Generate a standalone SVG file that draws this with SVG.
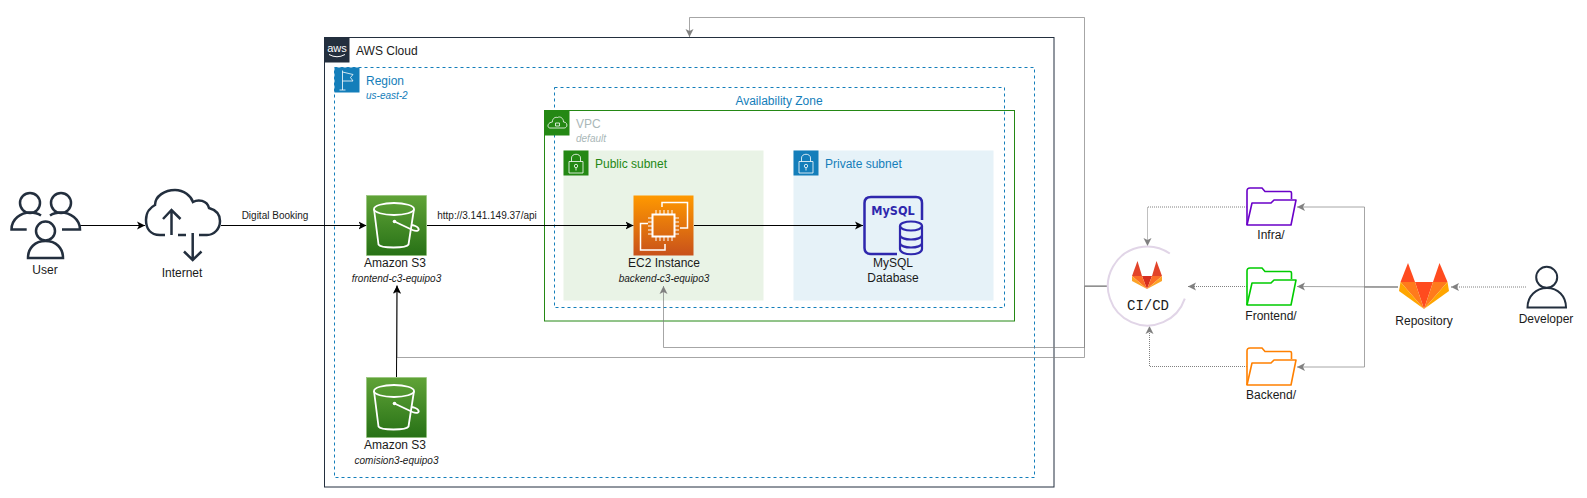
<svg xmlns="http://www.w3.org/2000/svg" width="1587" height="498" viewBox="0 0 1587 498">
<style>
text{font-family:"Liberation Sans",Arial,sans-serif;font-size:12px;fill:#1a1a1a}
.c{text-anchor:middle}
.i{font-style:italic;font-size:10px}
.s{font-size:10px}
.bl{fill:#147EBA}
.gn{fill:#248814}
.ic{fill:none;stroke:#fff;stroke-width:.8;stroke-linejoin:round}
.dk{fill:none;stroke:#232F3E;stroke-width:2.5}
.k{fill:none;stroke:#000;stroke-width:1;marker-end:url(#ak)}
.g{fill:none;stroke:#808080;stroke-width:1;stroke-opacity:.7}
.ga{marker-end:url(#ag)}
.d{stroke-dasharray:1 1;stroke-opacity:1}
.w{fill:none;stroke:#fff;stroke-width:1.800;stroke-linejoin:round}
</style>
<defs>
<marker id="ak" markerUnits="userSpaceOnUse" markerWidth="10" markerHeight="10" refX="8" refY="5" orient="auto"><path d="M0,1 L8,5 L0,9 L2,5Z" fill="#000"/></marker>
<marker id="ag" markerUnits="userSpaceOnUse" markerWidth="10" markerHeight="10" refX="8" refY="5" orient="auto"><path d="M0,1 L8,5 L0,9 L2,5Z" fill="#808080"/></marker>
<linearGradient id="gs" x1="0" y1="1" x2="0" y2="0"><stop offset="0" stop-color="#277116"/><stop offset="1" stop-color="#60A337"/></linearGradient>
<linearGradient id="ge" x1="0" y1="1" x2="0" y2="0"><stop offset="0" stop-color="#C8511B"/><stop offset="1" stop-color="#FF9900"/></linearGradient>
<g id="bucket">
<rect width="60" height="60" fill="url(#gs)" stroke="#8cbf6f" stroke-width=".5"/>
<ellipse cx="27.500" cy="13.500" rx="20" ry="6" class="w"/>
<path class="w" d="M7.500,13.500 L12,49 C14,53 40,53 42,49 L47.500,13.500"/>
<path class="w" d="M28,26 L46,34.500 C51,36.500 53,34.500 52,33 C51,31 47,29.500 44.500,29.500"/>
<circle cx="28" cy="26" r="1.800" fill="#fff"/>
</g>
<g id="lock">
<path class="ic" d="M5.500,11 H19.500 V22.500 H5.500Z M8,11 V7.500 C8,2.500 17,2.500 17,7.500 V11"/>
<circle cx="12.500" cy="15.500" r="1.700" class="ic"/><path class="ic" d="M12.500,17.200 V20"/>
</g>
<g id="folder">
<path d="M0,37 V3 Q0,0 3,0 H15 L18,3.500 H43 Q44.500,3.500 44.500,5 V11" fill="none" stroke-width="1.600"/>
<path d="M0,37 L5,15 H24 L27,12 H49 L44,37Z" fill="none" stroke-width="1.600" stroke-linejoin="round"/>
</g>
</defs>

<g id="aws-cloud">
<rect x="324.500" y="37.500" width="729.500" height="449.500" fill="#fff" stroke="#232F3E"/>
<rect x="324.500" y="37.500" width="25" height="25" fill="#232F3E"/>
<text x="337" y="52" class="c" style="fill:#fff;font-size:11px">aws</text>
<path d="M329,54.500 Q337,59 345,54.500" fill="none" stroke="#fff"/>
<text x="356" y="55">AWS Cloud</text>
</g>
<g id="region">
<rect x="334.500" y="67.500" width="700" height="410" fill="none" stroke="#147EBA" stroke-dasharray="3 3"/>
<rect x="334.500" y="67.500" width="25" height="25" fill="#147EBA"/>
<path class="ic" d="M342.500,70.500 V90 M339.500,90 H345.500 M342.500,72 L353,74.500 L350.500,77.500 L353,81 H342.500"/>
<text x="366" y="85" class="bl">Region</text>
<text x="366" y="99" class="bl i">us-east-2</text>
</g>
<g id="availability-zone">
<rect x="554.500" y="87.500" width="450" height="220" fill="none" stroke="#147EBA" stroke-dasharray="3 3"/>
<text x="779" y="105" class="c bl">Availability Zone</text>
</g>
<g id="vpc">
<rect x="544.500" y="110.500" width="470" height="210.500" fill="none" stroke="#248814"/>
<rect x="544.500" y="110.500" width="25" height="25" fill="#248814"/>
<path class="ic" d="M550,128 H564 C568,128 568,122 563.500,122 C563.500,118 560,116 557.500,117.500 C554,116.500 552,120 552.500,122 C547,122.500 547,128 550,128Z M555.500,123 H559.500 V126 H555.500Z"/>
<text x="576" y="128" style="fill:#AAB7B8">VPC</text>
<text x="576" y="142" class="i" style="fill:#AAB7B8">default</text>
</g>
<g id="public-subnet">
<rect x="563.500" y="150.500" width="200" height="150" fill="#E9F3E6"/>
<rect x="563.500" y="150.500" width="25" height="25" fill="#248814"/>
<use href="#lock" x="563.500" y="150.500"/>
<text x="595" y="168" class="gn">Public subnet</text>
</g>
<g id="private-subnet">
<rect x="793.500" y="150.500" width="200" height="150" fill="#E6F2F8"/>
<rect x="793.500" y="150.500" width="25" height="25" fill="#147EBA"/>
<use href="#lock" x="793.500" y="150.500"/>
<text x="825" y="168" class="bl">Private subnet</text>
</g>

<g id="connectors">
<path class="g" d="M1107,286 H1084.500 V17.500 H689.500 V37" style="marker-end:url(#ag)"/>
<path class="g ga" d="M1107,286.500 H1084.500 V357.500 H397 V286"/>
<path class="g ga" d="M1107,286 H1084.500 V347.500 H663.500 V286"/>
<path class="g ga" d="M1398,287 H1364.500 V207 H1297"/>
<path class="g ga" d="M1398,287 L1297,286.500"/>
<path class="g ga" d="M1398,287 H1364.500 V367 H1297"/>
<path class="g d ga" d="M1247,207 H1147.500 V246"/>
<path class="g d ga" d="M1247,286.500 H1188"/>
<path class="g d ga" d="M1247,366.500 H1149.500 V326"/>
<path class="g d ga" d="M1526,287 H1451"/>
<path class="k" d="M80,225.500 H145"/>
<path class="k" d="M221,225.500 H366.500"/>
<path class="k" d="M427,225.500 H633.500"/>
<path class="k" d="M694,225.500 H863"/>
<path class="k" d="M396.500,377 L397,285.500"/>
<text x="275" y="219" class="c s">Digital Booking</text>
<text x="487" y="219" class="c s">http://3.141.149.37/api</text>
</g>

<g id="user">
<circle cx="30" cy="203" r="10" class="dk"/>
<circle cx="61" cy="203" r="10" class="dk"/>
<circle cx="45.500" cy="231" r="9.500" class="dk"/>
<path class="dk" d="M26.700,229.500 H11.500 C11.500,219 21,212.500 30,212.500 C34,212.500 38,213.500 41,215.500"/>
<path class="dk" d="M62,229.500 H80 C80,219 70,212.500 61,212.500 C57,212.500 53,213.500 50,215.500"/>
<path class="dk" d="M28,258 H63 C63,248 56,241 45.500,241 C35,241 28,248 28,258Z"/>
<text x="45" y="274" class="c">User</text>
</g>
<g id="internet">
<path class="dk" d="M165,235 H160 C150,235 146,228 146,220 C146,212 151,207 155,205 C155,196 165,190 175,190 C184,190 191,196 193,202 C198,199 207,200 209,208 C216,210 220,215 220,221 C220,229 214,235 207,235 H199 M178,235 H186"/>
<path class="dk" d="M171.500,235 V210 M163,219 L171.500,210 L180.500,219 M192.700,233 V260 M184,251.500 L192.700,260 L201.500,251.500"/>
<text x="182" y="277" class="c">Internet</text>
</g>
<g id="s3-frontend">
<use href="#bucket" x="366.500" y="195.500"/>
<text x="395" y="267" class="c">Amazon S3</text>
<text x="396.500" y="282" class="c i">frontend-c3-equipo3</text>
</g>
<g id="s3-comision">
<use href="#bucket" x="366.500" y="377.500"/>
<text x="395" y="449" class="c">Amazon S3</text>
<text x="396.500" y="464" class="c i">comision3-equipo3</text>
</g>
<g id="ec2">
<rect x="633.500" y="195.500" width="60" height="60" fill="url(#ge)"/>
<rect x="652.500" y="214.500" width="22" height="22" fill="none" stroke="#fff" stroke-width="2"/>
<path d="M656,214 V210 M660,214 V210 M664,214 V210 M668,214 V210 M672,214 V210 M656,237 V241 M660,237 V241 M664,237 V241 M668,237 V241 M672,237 V241 M652,218 H648 M652,222 H648 M652,226 H648 M652,230 H648 M652,234 H648 M675,218 H679 M675,222 H679 M675,226 H679 M675,230 H679 M675,234 H679" stroke="#fff" fill="none"/>
<path d="M662,207 V202.500 H687.500 V228 H680 M648,223.500 H640.500 V250 H665 V244" fill="none" stroke="#fff" stroke-width="1.500"/>
<text x="664" y="267" class="c">EC2 Instance</text>
<text x="664" y="282" class="c i">backend-c3-equipo3</text>
</g>
<g id="mysql">
<path d="M897,254 H871 Q864.500,254 864.500,248 V203 Q864.500,197 871,197 H916 Q922,197 922,203 V220" fill="none" stroke="#2E27AD" stroke-width="2.500"/>
<text x="893" y="215" class="c" style="font-family:'DejaVu Sans',sans-serif;font-weight:bold;font-stretch:condensed;font-size:12.500px;fill:#2E27AD">MySQL</text>
<path d="M900,226 V249 C900,256 922,256 922,249 V226 M900,235 C900,241 922,241 922,235 M900,243 C900,249 922,249 922,243" fill="none" stroke="#2E27AD" stroke-width="2.200"/>
<ellipse cx="911" cy="226" rx="11" ry="4.500" fill="none" stroke="#2E27AD" stroke-width="2.200"/>
<text x="893" y="267" class="c">MySQL</text>
<text x="893" y="282" class="c">Database</text>
</g>
<g id="cicd">
<path d="M1169.800,253.500 A39.500,39.500 0 1 0 1184.800,298.600" fill="#fff" stroke="#E1D5E7" stroke-width="2"/>
<path d="M1137.500,261 L1132,276 H1142Z" fill="#E24329"/>
<path d="M1156.500,261 L1162,276 H1152Z" fill="#E24329"/>
<path d="M1142,276 H1152 L1147,289Z" fill="#D62E1F"/>
<path d="M1132,276 H1142 L1147,289Z" fill="#FC6D26"/>
<path d="M1162,276 H1152 L1147,289Z" fill="#FC6D26"/>
<path d="M1132,276 L1132,281 L1147,289Z" fill="#FCA326"/>
<path d="M1162,276 L1162,281 L1147,289Z" fill="#FCA326"/>
<text x="1148" y="310" class="c" style="font-family:'Liberation Mono',monospace;font-size:14px">CI/CD</text>
</g>
<g id="folder-infra" stroke="#6A00C8">
<use href="#folder" x="1247" y="188"/>
<text x="1271" y="239" class="c" stroke="none">Infra/</text>
</g>
<g id="folder-frontend" stroke="#00CC00">
<use href="#folder" x="1247" y="268"/>
<text x="1271" y="320" class="c" stroke="none">Frontend/</text>
</g>
<g id="folder-backend" stroke="#FF8000">
<use href="#folder" x="1247" y="348"/>
<text x="1271" y="399" class="c" stroke="none">Backend/</text>
</g>
<g id="repository">
<path d="M1408,263 L1400.500,282 H1415Z" fill="#FF4B1F"/>
<path d="M1439.500,263 L1447.500,282 H1433Z" fill="#FF4B1F"/>
<path d="M1415,282 H1433 L1424,309Z" fill="#FF4B1F"/>
<path d="M1400.500,282 H1415 L1424,309Z" fill="#FF7B1C"/>
<path d="M1447.500,282 H1433 L1424,309Z" fill="#FF7B1C"/>
<path d="M1400.500,282 L1399,291 L1424,309Z" fill="#FFA500"/>
<path d="M1447.500,282 L1449,291 L1424,309Z" fill="#FFA500"/>
<text x="1424" y="325" class="c">Repository</text>
</g>
<g id="developer">
<circle cx="1546.700" cy="277.300" r="10.500" class="dk" style="stroke-width:2"/>
<path class="dk" style="stroke-width:2" d="M1527.500,307.500 H1566 C1566,296 1558,288 1547,288 C1536,288 1527.500,296 1527.500,307.500Z"/>
<text x="1546" y="323" class="c">Developer</text>
</g>
</svg>
